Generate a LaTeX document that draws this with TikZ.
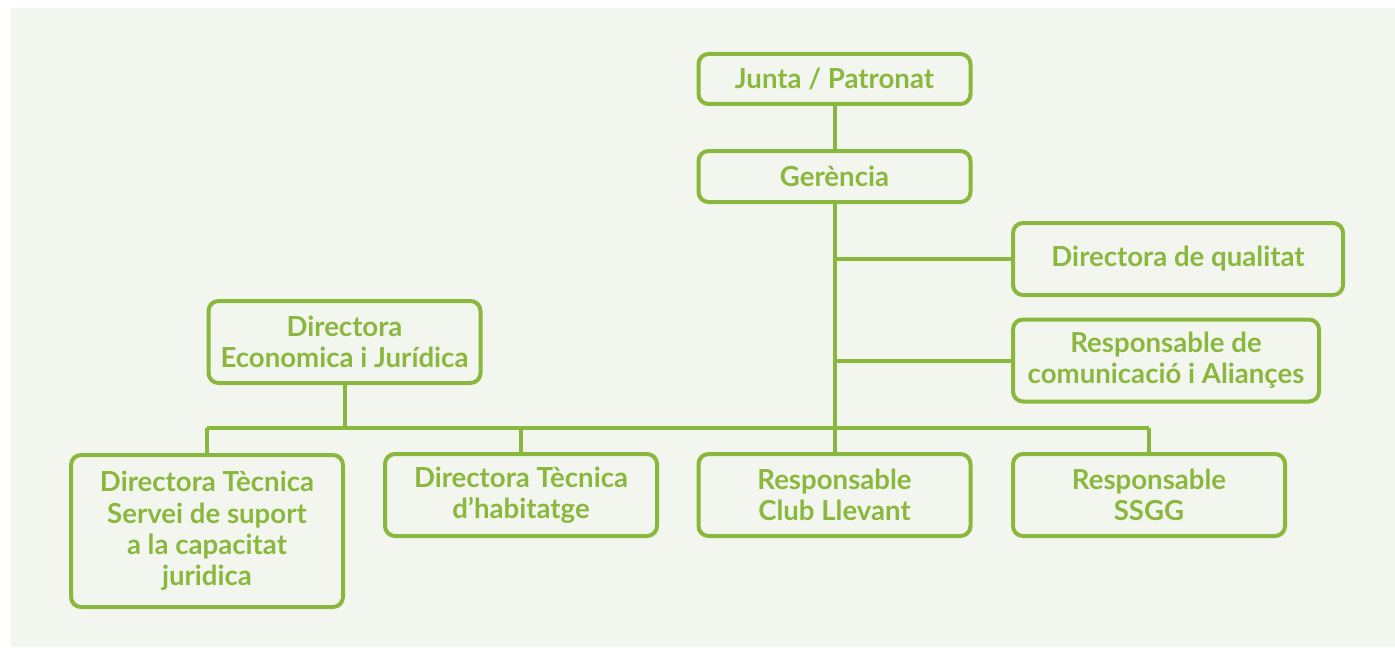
\documentclass[tikz,border=0pt]{standalone}
\usepackage{fontspec}
\setmainfont{Lato}
\definecolor{leaf}{HTML}{8AB83F}
\definecolor{paper}{HTML}{F3F6EE}

\begin{document}
\begin{tikzpicture}[x=0.5pt,y=-0.5pt,line width=2pt,draw=leaf,
box/.style = {draw=leaf, rounded corners=5pt, align=center, inner sep=0pt, text=leaf, font=\bfseries\fontsize{13.8}{15.6}\selectfont, minimum width=136pt, minimum height=41pt}]
\useasboundingbox (0,0) rectangle (1395,647);
\fill[paper] (11,8) rectangle (1395,647);
% top of the chart
\node[box, minimum height=25pt] (junta) at (834.5,79) {Junta / Patronat};
\node[box, minimum height=25.5pt] (gerencia) at (834.5,176.5) {Gerència};
\node[box, minimum width=165pt, minimum height=36pt] (qualitat) at (1178,259) {Directora de qualitat};
\node[box, minimum width=153pt] (comunicacio) at (1166,360.5) {Responsable de\\comunicació i Aliançes};
\node[box] (economica) at (344.5,342) {Directora\\Economica i Jurídica};
% bottom row
\node[box, minimum height=76pt] (tecnica) at (207,531) {Directora Tècnica\\Servei de suport\\a la capacitat\\juridica};
\node[box] (habitatge) at (521,495) {Directora Tècnica\\d’habitatge};
\node[box] (club) at (834.5,495) {Responsable\\Club Llevant};
\node[box] (ssgg) at (1149,495) {Responsable\\SSGG};
\coordinate (bus) at (0,428);
\draw (junta) -- (gerencia);
\draw (gerencia) -- (club);
\draw (qualitat) -- (qualitat -| gerencia);
\draw (comunicacio) -- (comunicacio -| gerencia);
\draw (economica) -- (economica |- bus);
\draw (tecnica.north |- bus) -- (ssgg.north |- bus);
\foreach \n in {tecnica,habitatge,ssgg}
  \draw (\n) -- (\n |- bus);
\end{tikzpicture}
\end{document}
